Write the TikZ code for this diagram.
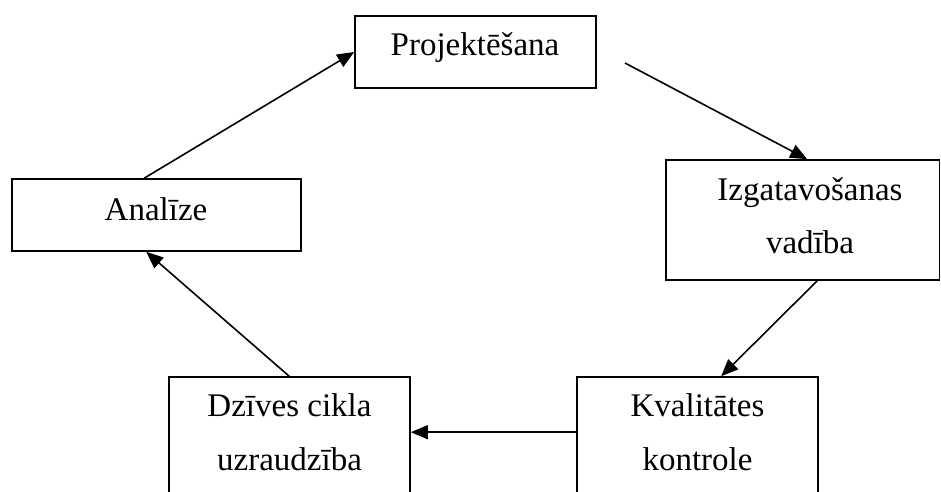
\documentclass[tikz,border=0pt]{standalone}
\usepackage{fontspec}
\setmainfont{Liberation Serif}
\usetikzlibrary{arrows.meta}
\begin{document}
\begin{tikzpicture}[x=1pt,y=-1pt,
  box/.style={draw,line width=1.6pt,inner sep=0pt,rectangle},
  txt/.style={anchor=base,inner sep=0pt,font=\fontsize{33}{40}\selectfont},
  conn/.style={line width=1.6pt,-{Triangle[length=17pt,width=14pt]}}]
\useasboundingbox (0,0) rectangle (941,491);
\clip (0,0) rectangle (941,491);
% boxes
\node[box,minimum width=241pt,minimum height=72pt] (proj) at (475.5,52) {};
\node[box,minimum width=289pt,minimum height=72pt] (ana) at (156.5,215) {};
\node[box,minimum width=273.5pt,minimum height=120pt] (izg) at (802.75,220) {};
\node[box,minimum width=241pt,minimum height=143pt] (kv) at (697.5,448.5) {};
\node[box,minimum width=241pt,minimum height=143pt] (dz) at (289.5,448.5) {};
% texts
\node[txt] (tproj) at (475,55) {Projektēšana};
\node[txt] (tana) at (156,220) {Analīze};
\node[txt] (tizg1) at (810,200) {Izgatavošanas};
\node[txt] (tizg2) at (810,253) {vadība};
\node[txt] (tkv1) at (697.5,416) {Kvalitātes};
\node[txt] (tkv2) at (697.5,470) {kontrole};
\node[txt] (tdz1) at (289.5,416) {Dzīves cikla};
\node[txt] (tdz2) at (289.5,470) {uzraudzība};
% connectors
\coordinate (s2) at (625,63);
\draw[conn] ([xshift=133pt]ana.north west) -- (proj.west);
\draw[conn] (s2) -- ([xshift=142pt]izg.north west);
\draw[conn] ([xshift=152pt]izg.south west) -- ([xshift=145pt]kv.north west);
\draw[conn] ([yshift=-56pt]kv.north west) -- ([yshift=-56pt]dz.north east);
\draw[conn] ([xshift=121pt]dz.north west) -- ([xshift=135pt]ana.south west);
\end{tikzpicture}
\end{document}
